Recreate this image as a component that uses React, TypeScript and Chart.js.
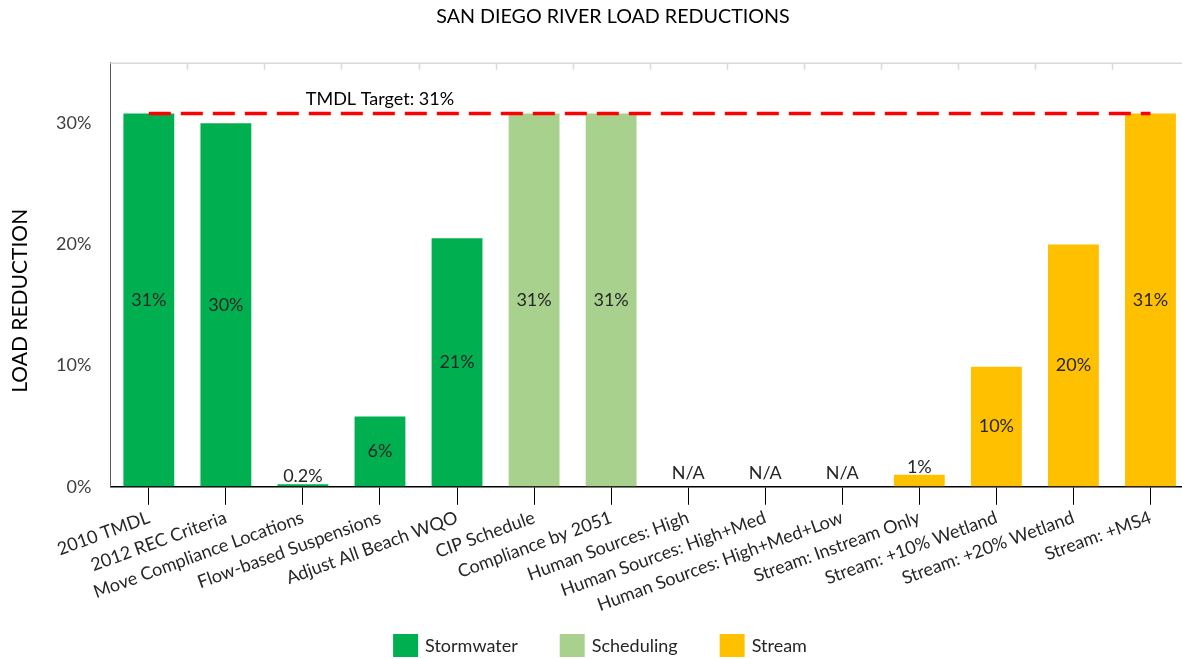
import React, { useEffect, useRef } from 'react';
import { Chart, registerables } from 'chart.js';

Chart.register(...registerables);

const TITLE = 'SAN DIEGO RIVER LOAD REDUCTIONS';
const Y_TITLE = 'LOAD REDUCTION';
const TARGET_LABEL = 'TMDL Target: 31%';

const categories = [
  '2010 TMDL',
  '2012 REC Criteria',
  'Move Compliance Locations',
  'Flow-based Suspensions',
  'Adjust All Beach WQO',
  'CIP Schedule',
  'Compliance by 2051',
  'Human Sources: High',
  'Human Sources: High+Med',
  'Human Sources: High+Med+Low',
  'Stream: Instream Only',
  'Stream: +10% Wetland',
  'Stream: +20% Wetland',
  'Stream: +MS4',
];

const groups = [
  'Stormwater', 'Stormwater', 'Stormwater', 'Stormwater', 'Stormwater',
  'Scheduling', 'Scheduling',
  'Stream', 'Stream', 'Stream', 'Stream', 'Stream', 'Stream', 'Stream',
];

const values = [30.8, 30.0, 0.2, 5.8, 20.5, 30.8, 30.8, null, null, null, 1.0, 9.9, 20.0, 30.8];
const valueLabels = ['31%', '30%', '0.2%', '6%', '21%', '31%', '31%', 'N/A', 'N/A', 'N/A', '1%', '10%', '20%', '31%'];
const targetLine = [30.8, 30.8, 30.8, 30.8, 30.8, 30.8, 30.8, 30.8, 30.8, 30.8, 30.8, 30.8, 30.8, 30.8];
const targetLabelCategory = 3;
const yTicks = [0, 10, 20, 30];
const yMax = 35;

const legendGroups = ['Stormwater', 'Scheduling', 'Stream'];
const groupColors: Record<string, string> = {
  Stormwater: '#00B050',
  Scheduling: '#A9D18E',
  Stream: '#FFC000',
};

const FONT = 'Lato, "Open Sans", sans-serif';

const overlayPlugin = {
  id: 'overlay',
  beforeDatasetsDraw(chart: any) {
    const { ctx, chartArea, scales } = chart;
    const x = scales.x;
    const n = categories.length;
    const step = (chartArea.right - chartArea.left) / n;
    ctx.save();
    ctx.strokeStyle = '#D9D9D9';
    ctx.lineWidth = 1.5;
    ctx.beginPath();
    ctx.moveTo(chartArea.left, chartArea.top + 0.5);
    ctx.lineTo(chart.width, chartArea.top + 0.5);
    for (let i = 1; i < n; i++) {
      const px = Math.round(x.getPixelForValue(i) - step / 2) + 0.5;
      ctx.moveTo(px, chartArea.top);
      ctx.lineTo(px, chartArea.top + 7);
    }
    ctx.stroke();
    ctx.restore();
  },
  afterDatasetsDraw(chart: any) {
    const { ctx, chartArea, scales } = chart;
    const meta = chart.getDatasetMeta(0);
    const y = scales.y;
    const zero = y.getPixelForValue(0);
    ctx.save();
    ctx.font = `18px ${FONT}`;
    ctx.fillStyle = '#262626';
    ctx.textAlign = 'center';
    meta.data.forEach((bar: any, i: number) => {
      const v = values[i];
      const label = valueLabels[i];
      if (v == null) {
        ctx.textBaseline = 'alphabetic';
        ctx.fillText(label, bar.x, zero - 8);
      } else if (Math.abs(bar.base - bar.y) < 30) {
        ctx.textBaseline = 'alphabetic';
        ctx.fillText(label, bar.x, bar.y - 2);
      } else {
        ctx.textBaseline = 'middle';
        ctx.fillText(label, bar.x, (bar.y + bar.base) / 2);
      }
    });
    // target label
    const tx = scales.x.getPixelForValue(targetLabelCategory);
    const ty = y.getPixelForValue(targetLine[targetLabelCategory]);
    ctx.fillStyle = '#000';
    ctx.textBaseline = 'middle';
    ctx.fillText(TARGET_LABEL, tx, ty - 14);
    // y title
    ctx.save();
    ctx.translate(20, chartArea.bottom - 186);
    ctx.rotate(-Math.PI / 2);
    ctx.font = `21px ${FONT}`;
    ctx.fillStyle = '#000';
    ctx.textAlign = 'center';
    ctx.textBaseline = 'middle';
    ctx.fillText(Y_TITLE, 0, 0);
    ctx.restore();
    ctx.restore();
  },
  afterDraw(chart: any) {
    const { ctx } = chart;
    const boxW = 25;
    const boxH = 23;
    const textGap = 7;
    const itemGap = 42;
    ctx.save();
    ctx.font = `18px ${FONT}`;
    const widths = legendGroups.map((g) => ctx.measureText(g).width);
    const total = widths.reduce((a, w) => a + boxW + textGap + w, 0) + itemGap * (legendGroups.length - 1);
    let cx = chart.width / 2 - total / 2;
    const top = chart.height - 25;
    legendGroups.forEach((g, i) => {
      ctx.fillStyle = groupColors[g];
      ctx.fillRect(cx, top, boxW, boxH);
      ctx.fillStyle = '#262626';
      ctx.textAlign = 'left';
      ctx.textBaseline = 'middle';
      ctx.fillText(g, cx + boxW + textGap, top + boxH / 2 + 1);
      cx += boxW + textGap + widths[i] + itemGap;
    });
    ctx.restore();
  },
};

export default function App() {
  const ref = useRef<HTMLCanvasElement | null>(null);
  useEffect(() => {
    if (!ref.current) return;
    const chart = new Chart(ref.current, {
      type: 'bar',
      data: {
        labels: categories,
        datasets: [
          {
            type: 'bar',
            label: 'Load Reduction',
            data: values as any,
            backgroundColor: groups.map((g) => groupColors[g]),
            borderWidth: 0,
            categoryPercentage: 1,
            barPercentage: 0.66,
            order: 1,
          },
          {
            type: 'line',
            label: 'TMDL Target',
            data: targetLine,
            borderColor: '#FF0000',
            borderWidth: 3.5,
            borderDash: [22, 10],
            pointRadius: 0,
            fill: false,
            order: 0,
          } as any,
        ],
      },
      options: {
        responsive: false,
        animation: false,
        layout: { padding: { left: 37, right: 11, top: 0, bottom: 41 } },
        plugins: {
          title: {
            display: true,
            text: TITLE,
            color: '#000',
            font: { size: 19.7, family: FONT, weight: 'normal' },
            padding: { top: 5, bottom: 34 },
          },
          legend: { display: false },
          tooltip: { enabled: false },
        },
        scales: {
          x: {
            grid: {
              offset: false,
              drawOnChartArea: false,
              drawTicks: true,
              tickLength: 18,
              color: '#000',
            },
            border: { display: true, color: '#000', width: 1.5 },
            ticks: {
              autoSkip: false,
              minRotation: 20,
              maxRotation: 20,
              padding: 2,
              color: '#262626',
              font: { size: 18, family: FONT },
            },
          },
          y: {
            min: 0,
            max: yMax,
            afterBuildTicks: (scale: any) => {
              scale.ticks = yTicks.map((v) => ({ value: v }));
            },
            grid: { drawOnChartArea: false, drawTicks: false, tickLength: 0 },
            border: { display: true, color: '#595959', width: 1 },
            ticks: {
              padding: 19,
              color: '#404040',
              font: { size: 18, family: FONT },
              callback: (v: any) => `${v}%`,
            },
          },
        },
      },
      plugins: [overlayPlugin],
    });
    return () => chart.destroy();
  }, []);

  return (
    <div style={{ position: 'fixed', left: 0, top: 0, width: 1182, height: 659, overflow: 'hidden', background: '#fff' }}>
      <canvas ref={ref} width={1200} height={659} style={{ width: 1200, height: 659, display: 'block' }} />
    </div>
  );
}
